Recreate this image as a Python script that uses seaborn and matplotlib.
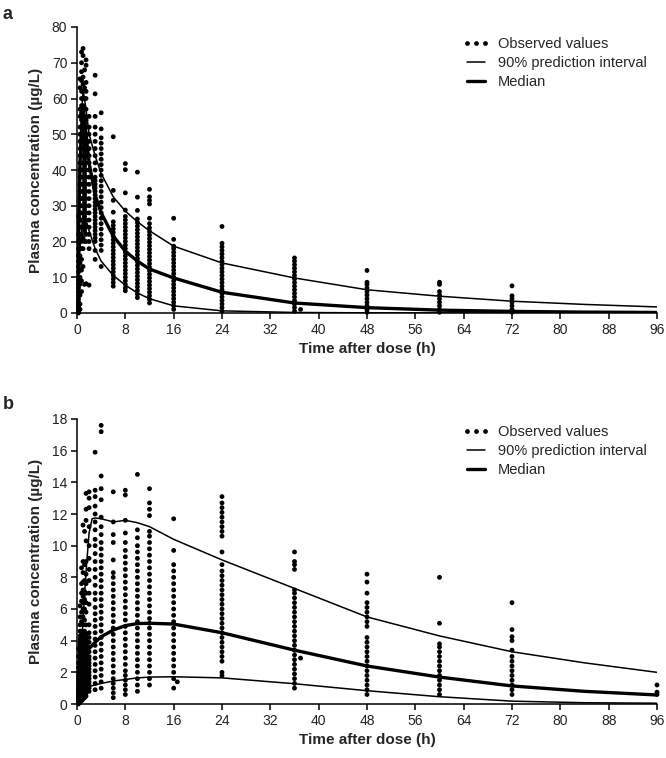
import pandas as pd
import matplotlib
matplotlib.use("Agg")
import matplotlib.pyplot as plt
from matplotlib.lines import Line2D
import seaborn as sns

sns.set_style("ticks")
plt.rcParams['font.family'] = ['Liberation Sans', 'DejaVu Sans']

# ---------------- panel a: observed values per sampling time (h) ----------------
a_times = [0.25, 0.5, 0.75, 1.0, 1.25, 1.5, 2.0, 3.0, 4.0, 6.0, 8.0, 10.0, 12.0, 16.0, 24.0, 36.0, 48.0, 60.0, 72.0]
a_t025 = [0, 0.3, 0.6, 1, 1.5, 2, 2.5, 3.2, 4, 5, 6, 7, 8, 9, 10, 11.5, 13, 14.5, 16, 18, 20, 22, 27]
a_t050 = [1, 2.5, 5, 8, 10, 12, 14, 16, 18, 20, 22, 24, 26, 28, 30, 32, 34, 36, 38, 40, 42, 44, 46, 48, 50, 52, 55, 57, 63, 65.5]
a_t075 = [6, 9, 12, 15, 18, 20, 22, 24, 26, 28, 30, 32, 34, 36, 38, 40, 42, 44, 46, 48, 50, 52, 54, 56, 58, 60, 62, 65, 67.5, 70, 73]
a_t100 = [13, 18, 21, 24, 26, 28, 30, 32, 34, 36, 38, 40, 42, 44, 46, 48, 50, 52, 54, 56, 58, 60, 62, 64, 66, 72, 74]
a_t125 = [8, 20, 23, 25, 27, 29, 31, 33, 35, 37, 39, 41, 43, 45, 47, 49, 51, 53, 55, 57, 60, 63, 68]
a_t150 = [8.2, 20, 22, 24, 26, 28, 30, 32, 34, 36, 38, 40, 42, 44, 46, 48, 50, 52, 54, 57, 60, 62, 64.5, 69.3, 70.8]
a_t200 = [7.8, 18, 20, 22, 24, 26, 28, 30, 32, 34, 36, 38, 40, 42, 44, 46, 48, 50, 52, 55]
a_t300 = [15, 17.5, 20, 21, 22, 23, 24, 25, 26, 27, 28, 29, 30, 31, 32, 33, 34, 35, 36, 37, 38, 40, 42, 44, 46, 48, 50, 52, 55, 61.3, 66.5]
a_t400 = [13, 17.5, 19, 20.5, 22, 23.5, 25, 26.5, 28, 29.5, 31, 32.5, 34, 35.5, 37, 38.5, 40, 41.5, 43, 44.5, 46, 47.5, 49, 51.5, 56]
a_t600 = [7.5, 8.5, 9.5, 10.5, 11.5, 12.5, 13.5, 14.5, 15.5, 16.5, 17.5, 18.5, 19.5, 20.5, 21.5, 22.5, 23.5, 24.5, 25.5, 28.2, 31.5, 34.3, 49.3]
a_t800 = [6.2, 7, 8, 9, 10, 11, 12, 13, 14, 15, 16, 17, 18, 19, 20, 21, 22, 23, 24, 25, 26, 27, 28.8, 33.6, 40.1, 41.8]
a_t1000 = [4.3, 5.3, 6.3, 7.3, 8.3, 9.3, 10.3, 11.3, 12.3, 13.3, 14.3, 15.3, 16.3, 17.3, 18.3, 19.3, 20.3, 21.3, 22.3, 23.3, 24.3, 25.3, 26.3, 28.7, 32.4, 39.4]
a_t1200 = [2.8, 3.8, 4.8, 5.8, 6.8, 7.8, 8.8, 9.8, 10.8, 11.8, 12.8, 13.8, 14.8, 15.8, 16.8, 17.8, 18.8, 19.8, 20.8, 21.8, 22.8, 23.8, 25, 26.5, 30.5, 31.5, 32.5, 34.6]
a_t1600 = [1, 2, 3, 4, 5, 6, 7, 8, 9, 10, 11, 12, 13, 14, 15, 16, 17, 18, 18.7, 20.6, 26.5]
a_t2400 = [0.5, 1.5, 2.5, 3.5, 4.5, 5.5, 6.5, 7.5, 8.5, 9.5, 10.5, 11.5, 12.5, 13.5, 14.5, 15.5, 16.5, 17.5, 18.5, 19.5, 24.2]
a_t3600 = [0.5, 1.5, 2.5, 3.5, 4.5, 5.5, 6.5, 7.5, 8.5, 9.5, 10.5, 11.5, 12.5, 13.5, 14.5, 15.4]
a_t4800 = [0.2, 1, 2, 3, 4, 5, 6, 7, 8, 8.6, 11.9]
a_t6000 = [0.2, 1, 2, 3, 4, 5, 6, 8, 8.6]
a_t7200 = [0.2, 1, 2, 3, 4, 4.8, 7.6]
a_extra_t = [37.0]
a_extra_c = [1.0]

# panel a: simulated median and 90% prediction interval
a_curve_t = [0, 0.5, 1.0, 1.5, 2, 3, 4, 6, 8, 10, 12, 16, 24, 36, 48, 60, 72, 84, 96]
a_median = [0, 42, 57, 50, 42, 33, 28, 21.5, 17.3, 14.5, 12.3, 9.8, 5.8, 2.8, 1.5, 0.8, 0.45, 0.25, 0.15]
a_upper = [0, 48, 62.5, 57, 50, 44, 39, 32.5, 28.5, 25.5, 23, 18.7, 14, 9.8, 6.5, 4.7, 3.3, 2.4, 1.7]
a_lower = [0, 18, 28, 26, 23, 18, 14.5, 10.5, 7.8, 5.6, 4.0, 2.0, 0.6, 0.15, 0.05, 0.02, 0, 0, 0]

# ---------------- panel b: observed values per sampling time (h) ----------------
b_times = [0.25, 0.5, 0.75, 1.0, 1.25, 1.5, 2.0, 3.0, 4.0, 6.0, 8.0, 10.0, 12.0, 16.0, 24.0, 36.0, 48.0, 60.0, 72.0, 96.0]
b_t025 = [0, 0.1, 0.2, 0.3, 0.4, 0.5, 0.6, 0.7, 0.8, 0.9, 1.0, 1.2, 1.4, 1.6, 1.8, 2.0, 2.3, 2.6, 3.0, 3.5]
b_t050 = [0.1, 0.3, 0.5, 0.7, 0.9, 1.1, 1.3, 1.5, 1.7, 1.9, 2.1, 2.3, 2.5, 2.7, 2.9, 3.1, 3.3, 3.5, 3.7, 3.9, 4.1, 4.3, 4.6, 5.0, 5.5, 6.2]
b_t075 = [0.2, 0.4, 0.6, 0.8, 1.0, 1.2, 1.4, 1.6, 1.8, 2.0, 2.2, 2.4, 2.6, 2.8, 3.0, 3.2, 3.4, 3.6, 3.8, 4.0, 4.2, 4.4, 4.6, 5.2, 5.8, 6.5, 7.0, 7.6, 8.6]
b_t100 = [0.3, 0.5, 0.7, 0.9, 1.1, 1.3, 1.5, 1.7, 1.9, 2.1, 2.3, 2.5, 2.7, 2.9, 3.1, 3.3, 3.5, 3.7, 3.9, 4.1, 4.3, 4.5, 5.0, 5.5, 6.0, 6.4, 6.8, 7.2, 7.7, 8.3, 9.0, 11.3]
b_t125 = [0.4, 0.6, 0.8, 1.0, 1.2, 1.4, 1.6, 1.8, 2.0, 2.2, 2.4, 2.6, 2.8, 3.0, 3.2, 3.4, 3.6, 3.8, 4.0, 4.2, 4.4, 4.6, 5.3, 6.0, 6.6, 7.1, 7.8, 8.8, 10.9]
b_t150 = [0.5, 0.7, 0.9, 1.1, 1.3, 1.5, 1.7, 1.9, 2.1, 2.3, 2.5, 2.7, 2.9, 3.1, 3.3, 3.5, 3.7, 3.9, 4.1, 4.4, 5.0, 5.8, 6.4, 7.0, 7.6, 8.2, 9.0, 10.3, 11.6, 12.3, 13.3]
b_t200 = [0.8, 1.0, 1.2, 1.4, 1.6, 1.8, 2.0, 2.2, 2.4, 2.6, 2.8, 3.0, 3.3, 3.6, 3.9, 4.2, 4.5, 5.0, 6.3, 7.0, 7.8, 8.5, 9.2, 10.0, 11.2, 12.4, 13.0, 13.4]
b_t300 = [0.9, 1.3, 1.7, 2.1, 2.5, 2.9, 3.3, 3.7, 4.1, 4.5, 4.9, 5.3, 5.7, 6.1, 6.6, 7.0, 7.5, 8.0, 8.5, 9.0, 9.5, 10.0, 10.4, 11.0, 11.5, 12.0, 12.5, 13.1, 13.5, 15.9]
b_t400 = [1.0, 1.4, 1.8, 2.2, 2.6, 3.0, 3.4, 3.8, 4.2, 4.6, 5.0, 5.4, 5.8, 6.2, 6.6, 7.0, 7.4, 7.8, 8.2, 8.6, 9.0, 9.4, 9.8, 10.2, 10.7, 11.2, 11.8, 12.9, 13.6, 14.4, 17.2, 17.6]
b_t600 = [0.4, 0.7, 1.0, 1.3, 1.6, 2.0, 2.4, 2.8, 3.2, 3.6, 4.0, 4.4, 4.8, 5.2, 5.6, 6.0, 6.4, 6.8, 7.2, 7.6, 8.0, 8.3, 9.1, 10.2, 10.7, 11.5, 13.4]
b_t800 = [0.6, 0.9, 1.2, 1.5, 1.8, 2.1, 2.5, 2.9, 3.3, 3.7, 4.1, 4.5, 4.9, 5.3, 5.7, 6.1, 6.5, 6.9, 7.3, 7.7, 8.1, 8.5, 8.9, 9.3, 9.7, 10.2, 10.8, 11.6, 13.2, 13.5]
b_t1000 = [0.8, 1.2, 1.6, 2.0, 2.4, 2.8, 3.2, 3.6, 4.0, 4.4, 4.8, 5.2, 5.6, 6.0, 6.4, 6.8, 7.2, 7.6, 8.0, 8.4, 8.8, 9.2, 9.6, 10.0, 10.5, 11.0, 14.5]
b_t1200 = [1.2, 1.6, 2.0, 2.4, 2.8, 3.2, 3.6, 4.0, 4.4, 4.8, 5.1, 5.4, 5.8, 6.2, 6.6, 7.0, 7.4, 7.8, 8.2, 8.6, 9.0, 9.4, 9.8, 10.2, 10.6, 10.9, 11.9, 12.3, 12.7, 13.6]
b_t1600 = [1.0, 1.6, 2.0, 2.4, 2.8, 3.2, 3.6, 4.0, 4.4, 4.8, 5.2, 5.6, 6.0, 6.4, 6.8, 7.2, 7.6, 8.0, 8.4, 8.8, 9.7, 11.7]
b_t2400 = [1.8, 2.0, 2.7, 3.0, 3.3, 3.6, 3.9, 4.2, 4.5, 4.8, 5.1, 5.4, 5.7, 6.0, 6.3, 6.6, 6.9, 7.2, 7.5, 7.8, 8.1, 8.4, 8.8, 9.6, 10.6, 10.9, 11.2, 11.5, 11.8, 12.1, 12.4, 12.7, 13.1]
b_t3600 = [1.0, 1.3, 1.6, 1.9, 2.2, 2.5, 2.8, 3.1, 3.4, 3.7, 4.0, 4.3, 4.6, 4.9, 5.2, 5.5, 5.8, 6.1, 6.4, 6.7, 7.0, 7.2, 8.5, 8.8, 9.0, 9.6]
b_t4800 = [0.6, 0.9, 1.2, 1.5, 1.8, 2.1, 2.4, 2.7, 3.0, 3.3, 3.6, 3.9, 4.2, 4.9, 5.2, 5.5, 5.8, 6.1, 6.4, 7.0, 7.7, 8.2]
b_t6000 = [0.6, 0.9, 1.2, 1.5, 1.8, 2.1, 2.4, 2.7, 3.0, 3.3, 3.6, 3.8, 5.1, 8.0]
b_t7200 = [0.6, 0.9, 1.2, 1.5, 1.8, 2.1, 2.4, 2.7, 3.0, 3.4, 4.0, 4.25, 4.7, 6.4]
b_t9600 = [0.6, 0.75, 1.2]
b_extra_t = [16.6, 37.0]
b_extra_c = [1.4, 2.9]

# panel b: simulated median and 90% prediction interval
b_curve_t = [0, 0.5, 1.0, 1.5, 2.0, 2.5, 3, 4, 6, 8, 10, 12, 16, 24, 36, 48, 60, 72, 84, 96]
b_median = [0, 1.6, 2.7, 3.2, 3.5, 3.7, 3.9, 4.25, 4.67, 4.95, 5.08, 5.1, 5.05, 4.5, 3.4, 2.4, 1.7, 1.14, 0.8, 0.57]
b_upper = [0, 2.0, 5.3, 8.4, 10.8, 11.7, 11.75, 11.7, 11.5, 11.6, 11.45, 11.2, 10.4, 9.1, 7.3, 5.5, 4.3, 3.3, 2.6, 2.0]
b_lower = [0, 0.45, 0.8, 1.0, 1.1, 1.15, 1.2, 1.3, 1.45, 1.55, 1.65, 1.7, 1.72, 1.65, 1.28, 0.84, 0.46, 0.18, 0.08, 0.05]

a_cols = [a_t025, a_t050, a_t075, a_t100, a_t125, a_t150, a_t200, a_t300, a_t400, a_t600, a_t800,
          a_t1000, a_t1200, a_t1600, a_t2400, a_t3600, a_t4800, a_t6000, a_t7200]
b_cols = [b_t025, b_t050, b_t075, b_t100, b_t125, b_t150, b_t200, b_t300, b_t400, b_t600, b_t800,
          b_t1000, b_t1200, b_t1600, b_t2400, b_t3600, b_t4800, b_t6000, b_t7200, b_t9600]


def obs_frame(times, cols, extra_t, extra_c):
    rows = []
    for t, vals in zip(times, cols):
        for v in vals:
            rows.append((t, v))
    for t, v in zip(extra_t, extra_c):
        rows.append((t, v))
    return pd.DataFrame(rows, columns=["time", "conc"])


obs_a = obs_frame(a_times, a_cols, a_extra_t, a_extra_c)
obs_b = obs_frame(b_times, b_cols, b_extra_t, b_extra_c)
sim_a = pd.DataFrame({"time": a_curve_t, "median": a_median, "upper": a_upper, "lower": a_lower})
sim_b = pd.DataFrame({"time": b_curve_t, "median": b_median, "upper": b_upper, "lower": b_lower})

fig = plt.figure(figsize=(6.66, 7.58), dpi=100)
ax_a = fig.add_axes([77 / 666, 1 - 313 / 758, 580 / 666, 286 / 758])
ax_b = fig.add_axes([77 / 666, 1 - 704 / 758, 580 / 666, 285 / 758])

legend_handles = [
    Line2D([], [], ls='none', marker='o', ms=2.4, color='black'),
    Line2D([], [], color='black', lw=1.1),
    Line2D([], [], color='black', lw=2.4),
]
legend_labels = ["Observed values", "90% prediction interval", "Median"]


def draw_panel(ax, obs, sim, ymax, ystep, letter, leg_y, letter_y):
    sns.scatterplot(data=obs, x="time", y="conc", ax=ax, color="black", s=12,
                    edgecolor="none", linewidth=0, clip_on=False, zorder=2)
    sns.lineplot(data=sim, x="time", y="upper", ax=ax, color="black", lw=1.1, zorder=3)
    sns.lineplot(data=sim, x="time", y="lower", ax=ax, color="black", lw=1.1, zorder=3)
    sns.lineplot(data=sim, x="time", y="median", ax=ax, color="black", lw=2.4, zorder=3)
    ax.set_xlim(0, 96)
    ax.set_ylim(0, ymax)
    ax.set_xticks(range(0, 97, 8))
    ax.set_yticks([i * ystep for i in range(int(round(ymax / ystep)) + 1)])
    sns.despine(ax=ax)
    for s in ["left", "bottom"]:
        ax.spines[s].set_linewidth(1.1)
        ax.spines[s].set_color("black")
    ax.tick_params(axis="both", length=4, width=1.1, color="black", labelsize=10, pad=3,
                   labelcolor="#222222")
    ax.set_xlabel("Time after dose (h)", fontsize=11, fontweight="bold",
                  family=['Liberation Sans Narrow', 'Liberation Sans', 'DejaVu Sans'], labelpad=4)
    ax.set_ylabel("Plasma concentration (µg/L)", fontsize=11, fontweight="bold", labelpad=6)
    ax.legend(legend_handles, legend_labels, loc="upper left", bbox_to_anchor=(0.655, leg_y),
              frameon=False, fontsize=10.5, numpoints=3, handlelength=1.8, handletextpad=0.6,
              labelspacing=0.35, borderaxespad=0)
    ax.text(-0.128, letter_y, letter, transform=ax.transAxes, fontsize=13, fontweight="bold",
            va="top", ha="left")


draw_panel(ax_a, obs_a, sim_a, 80, 10, "a", 0.985, 1.075)
draw_panel(ax_b, obs_b, sim_b, 18, 2, "b", 1.0, 1.08)

fig.savefig("out.png", dpi=100)
